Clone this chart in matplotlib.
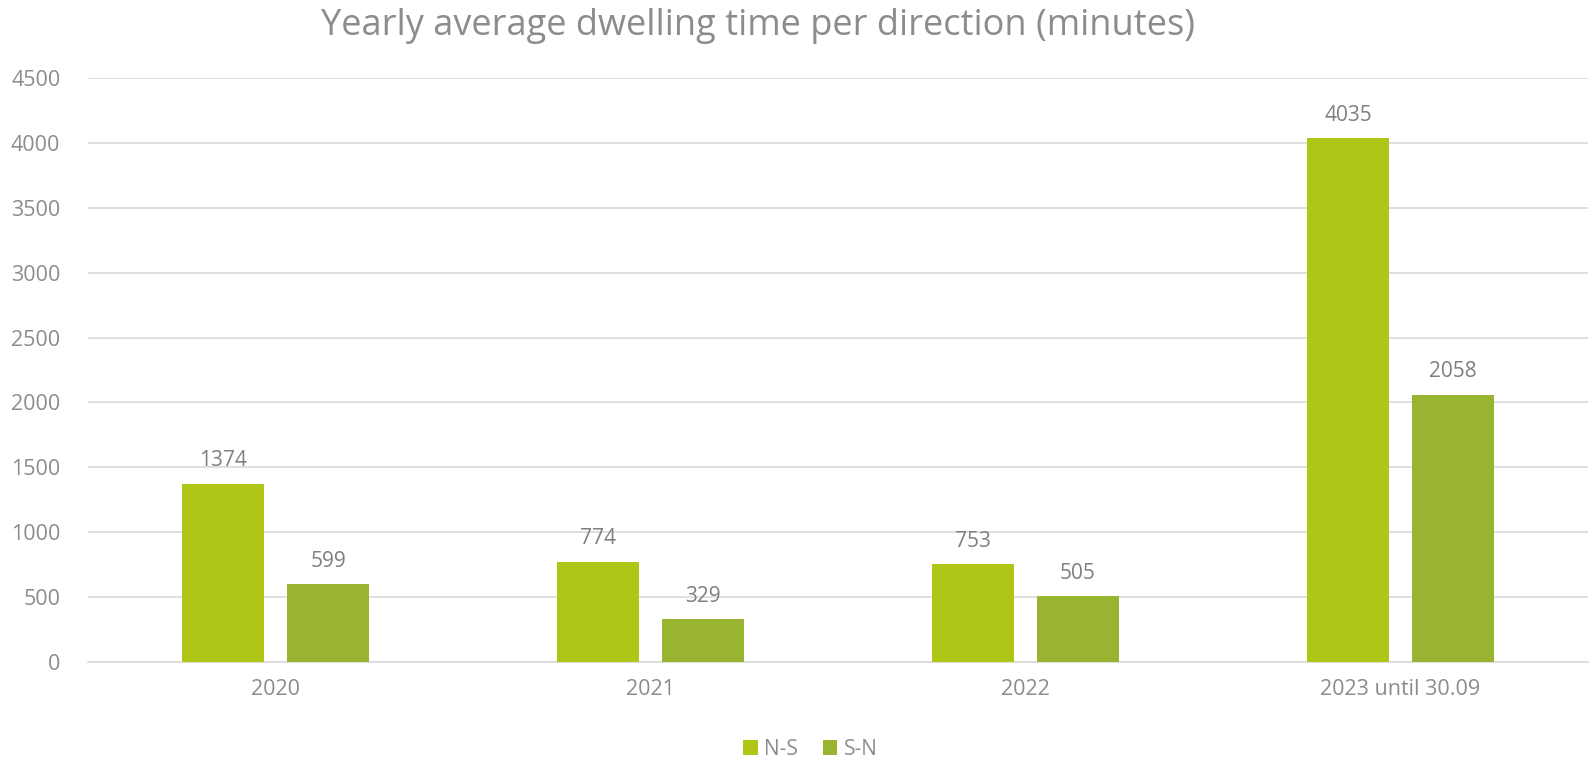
import matplotlib.pyplot as plt
import numpy as np

years = ["2020", "2021", "2022", "2023 until 30.09"]
ns_values = [1374, 774, 753, 4035]
sn_values = [599, 329, 505, 2058]
series_names = ["N-S", "S-N"]
colors = ["#AFC617", "#98B431"]
text_gray = "#8C8C8C"

plt.rcParams['font.family'] = ['Open Sans', 'DejaVu Sans']

fig = plt.figure(figsize=(15.89, 7.65), dpi=100)
ax = fig.add_axes([0.0554, 0.1346, 0.944, 0.7634])

x = np.arange(len(years))
w = 0.22
off = 0.14
b1 = ax.bar(x - off, ns_values, w, color=colors[0], label=series_names[0], zorder=3)
b2 = ax.bar(x + off, sn_values, w, color=colors[1], label=series_names[1], zorder=3)

for bars in (b1, b2):
    for r in bars:
        ax.annotate(str(int(r.get_height())), (r.get_x() + r.get_width() / 2, r.get_height()),
                    xytext=(0, 9), textcoords="offset points", ha="center", va="bottom",
                    fontsize=15, color="#7F7F7F")

ax.set_xlim(-0.5, len(years) - 0.5)
ax.set_ylim(0, 4500)
ax.set_yticks(range(0, 4501, 500))
ax.set_xticks(x)
ax.set_xticklabels(years)
ax.grid(axis="y", color="#D9D9D9", linewidth=1.2, zorder=0)
for s in ["top", "right", "left"]:
    ax.spines[s].set_visible(False)
ax.spines["bottom"].set_color("#D9D9D9")
ax.spines["bottom"].set_linewidth(1.2)
ax.tick_params(axis="both", length=0, labelsize=15.5, colors=text_gray)
ax.tick_params(axis="y", pad=20)
ax.tick_params(axis="x", pad=12)

fig.suptitle("Yearly average dwelling time per direction (minutes)", x=0.477, y=0.99,
             fontsize=26, color=text_gray)

fig.legend(loc="lower center", ncol=2, frameon=False, fontsize=15,
           bbox_to_anchor=(0.51, -0.018), handlelength=0.7, handleheight=0.7,
           handletextpad=0.3, columnspacing=1.2, labelcolor=text_gray)

fig.savefig("out.png", dpi=100)
